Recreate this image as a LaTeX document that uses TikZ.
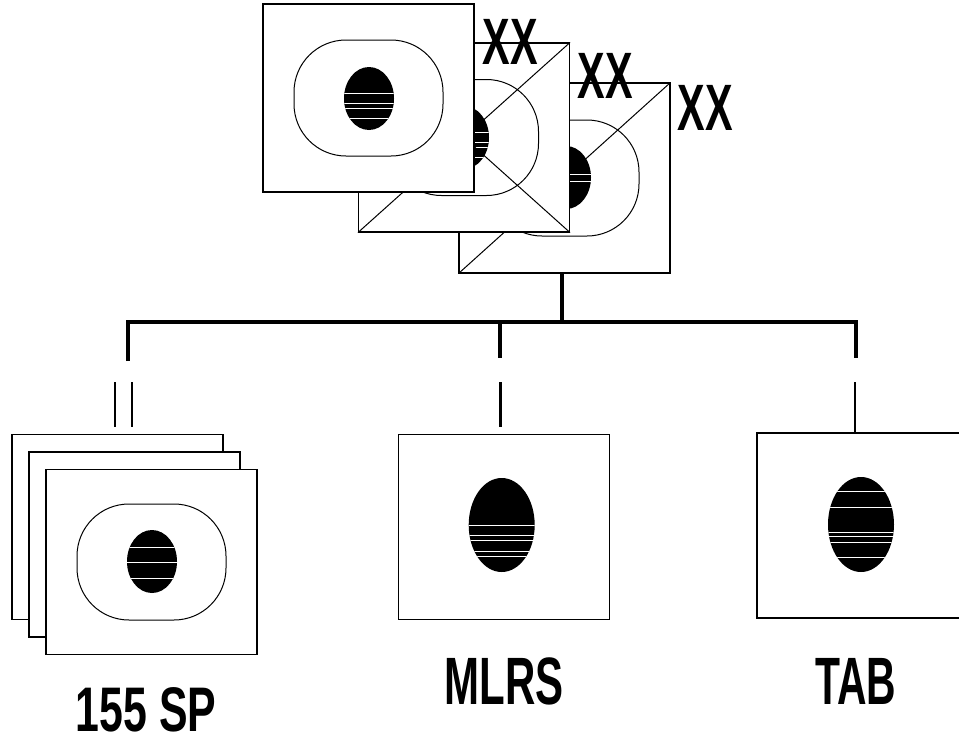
\documentclass[tikz,border=0pt]{standalone}
\usepackage{fontspec}
\setmainfont{Liberation Sans}
\newcommand{\cnd}[2]{\scalebox{#1}[1]{#2}}
\tikzset{
  box/.style={draw, fill=white, line width=1.2, minimum width=211, minimum height=188, inner sep=0},
  outline/.style={draw, line width=1.0, rounded corners=52},
  stripe/.style={white, line width=0.6},
  diag/.style={line width=1.0},
  bus/.style={line width=4.5, line join=miter},
  drop/.style={line width=4},
  stub/.style={line width=2.5},
  lbl/.style={inner sep=0, font=\bfseries\fontsize{67}{67}\selectfont},
  lblxx/.style={inner sep=0, font=\bfseries\fontsize{65.6}{66}\selectfont},
  lblsp/.style={inner sep=0, font=\bfseries\fontsize{63}{63}\selectfont}
}
\newcommand{\tvframe}[1]{\draw[outline] ([shift={(-74.5,-58)}]#1.center) rectangle ([shift={(74.5,58)}]#1.center);}
\newcommand{\tvblob}[6]{%
  \coordinate (#1-c) at ([shift={(#2,#3)}]#1.center);
  \fill (#1-c) ellipse [x radius=#4, y radius=#5];
  \begin{scope}
    \clip (#1-c) ellipse [x radius=#4, y radius=#5];
    \foreach \d in {#6} {\draw[stripe] ([shift={(-40,\d)}]#1-c) -- ([shift={(40,\d)}]#1-c);}
  \end{scope}}
\begin{document}
\begin{tikzpicture}[x=1pt, y=-1pt]
\useasboundingbox (0,0) rectangle (959,742);

% ---- top stack ----
\node[box, minimum height=190] (t3) at (564.5,178) {};
\tvframe{t3}
\tvblob{t3}{1.5}{-0.5}{25}{31.5}{-3,4}
\draw[diag] (t3.south west) -- (t3.north east);

\node[box, minimum height=189] (t2) at (464,137.5) {};
\tvframe{t2}
\tvblob{t2}{0}{0}{25}{31.5}{-5,5,10,20}
\draw[diag] (t2.south west) -- (t2.north east) (t2.north west) -- (t2.south east);

\node[box] (t1) at (368.5,98) {};
\tvframe{t1}
\tvblob{t1}{0.5}{0.5}{25}{31.5}{-5,5,10,20}

\node[lblxx] (x1) at (510,42) {\cnd{0.63}{XX}};
\node[lblxx] (x2) at (605,76) {\cnd{0.63}{XX}};
\node[lblxx] (x3) at (705,108) {\cnd{0.63}{XX}};

% ---- bottom boxes ----
\node[box, minimum height=185] (s3) at (117.5,527) {};
\node[box, minimum height=185] (s2) at (134.5,544.5) {};
\node[box, minimum height=185] (s1) at (151.5,562) {};
\tvframe{s1}
\tvblob{s1}{0.5}{-0.5}{25}{31.5}{-14,1,17}

\node[box, minimum height=185] (m) at (503.7,527) {};
\tvblob{m}{-2}{-2}{33}{47}{0,10,15,26,31}

\node[box, minimum height=185] (tb) at (862.5,525.5) {};
\tvblob{tb}{-1.5}{-1}{33}{47.5}{-33,-17,8,12,18,33}

\node[lblsp] (l1) at (146,710) {\cnd{0.68}{155 SP}};
\node[lbl] (l2) at (504,681) {\cnd{0.627}{MLRS}};
\node[lbl] (l3) at (856,681) {\cnd{0.61}{TAB}};

% ---- connectors ----
\coordinate (hub) at (562,322);
\coordinate (bl) at (128,322);
\coordinate (br) at (856,322);
\coordinate (d1) at (128,361);
\coordinate (d2) at (500,358);
\coordinate (d3) at (856,358);
\draw[drop] (t3.south -| hub) -- (hub);
\draw[bus] (d1) -- (bl) -- (br) -- (d3);
\draw[drop] (d2 |- hub) -- (d2);

\coordinate (a1) at (115,382); \coordinate (a1e) at (115,427);
\coordinate (a2) at (132,382); \coordinate (a2e) at (132,427);
\coordinate (b1) at (500.5,382); \coordinate (b1e) at (500.5,427);
\coordinate (c1) at (855,382);
\draw[stub] (a1) -- (a1e);
\draw[stub] (a2) -- (a2e);
\draw[stub] (b1) -- (b1e);
\draw[stub] (c1) -- (c1 |- tb.north);
\end{tikzpicture}
\end{document}
